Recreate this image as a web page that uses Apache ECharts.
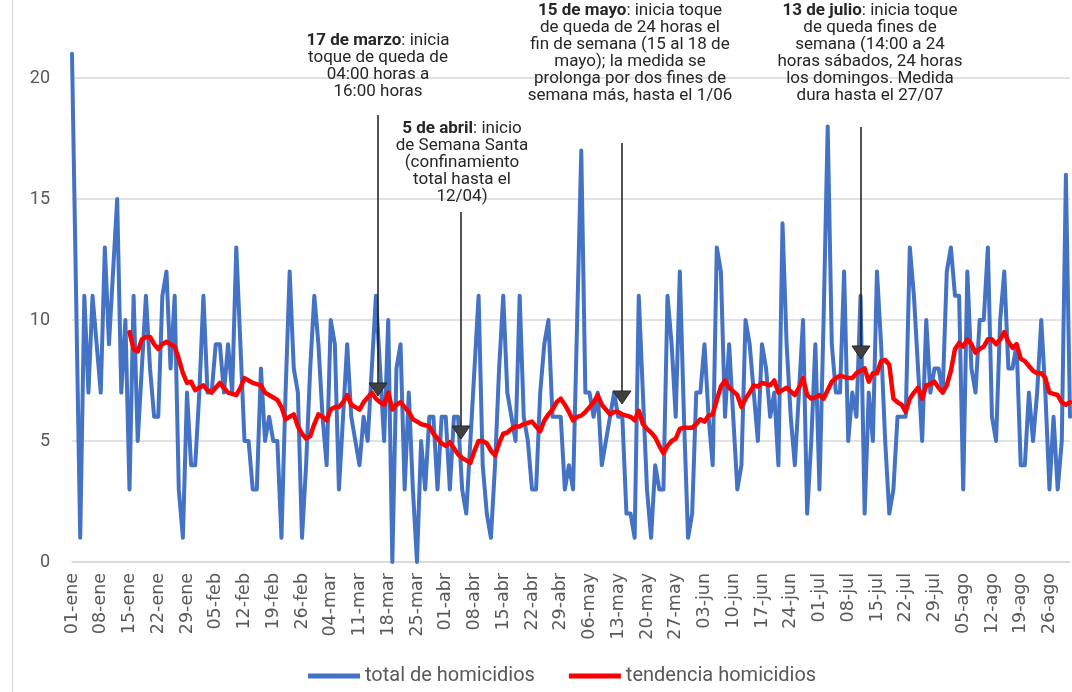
<!DOCTYPE html>
<html>
<head>
<meta charset="utf-8">
<script src="https://cdn.jsdelivr.net/npm/echarts@6/dist/echarts.min.js"></script>
<style>
  html, body { margin: 0; padding: 0; background: #ffffff; }
  #chart { width: 1072px; height: 692px; }
</style>
</head>
<body>
<div id="chart"></div>
<script>
// ---- Data ----
const monthNames = ['ene', 'feb', 'mar', 'abr', 'may', 'jun', 'jul', 'ago'];
const monthLengths = [31, 29, 31, 30, 31, 30, 31, 31];

// total de homicidios (daily, 01-ene .. 31-ago)
const totalHomicidios = [
  21,11,1,11,7,11,9,7,13,9,
  12,15,7,10,3,11,5,8,11,8,
  6,6,11,12,8,11,3,1,7,4,
  4,7,11,7,7,9,9,7,9,7,
  13,9,5,5,3,3,8,5,6,5,
  5,1,7,12,8,7,1,4,8,11,
  9,6,4,10,9,3,6,9,6,5,
  4,6,5,8,11,8,5,10,0,8,
  9,3,7,3,0,5,3,6,6,3,
  6,6,3,6,6,3,2,5,8,11,
  4,2,1,4,8,11,7,6,5,11,
  6,5,3,3,7,9,10,6,6,6,
  3,4,3,10,17,7,7,6,7,4,
  5,6,7,6,6,2,2,1,11,7,
  3,1,4,3,3,11,9,6,12,6,
  1,2,7,7,9,6,4,13,12,6,
  9,6,3,4,10,9,7,5,9,8,
  6,7,4,14,9,6,4,7,10,2,
  5,9,3,10,18,9,7,7,12,5,
  7,6,11,2,7,5,12,9,5,2,
  3,6,6,6,13,11,8,5,10,7,
  8,8,7,12,13,11,11,3,12,8,
  7,10,10,13,6,5,10,12,8,8,
  9,4,4,7,5,7,10,7,3,6,
  3,5,16,6
];

// tendencia homicidios (starts 15-ene)
const tendenciaHomicidios = [
  null,null,null,null,null,null,null,null,null,null,null,null,null,null,
  9.5,8.8,8.7,9.2,9.3,9.3,9.0,8.8,9.0,9.1,
  9.0,8.9,8.4,7.8,7.4,7.45,7.1,7.2,7.3,7.1,
  7.0,7.2,7.4,7.2,7.0,6.95,6.9,7.2,7.6,7.5,
  7.4,7.35,7.3,7.0,6.9,6.8,6.7,6.4,5.9,6.0,
  6.1,5.6,5.3,5.1,5.2,5.7,6.1,6.0,5.85,6.3,
  6.4,6.4,6.6,6.9,6.5,6.4,6.3,6.6,6.8,7.0,
  6.75,6.6,6.5,7.0,6.3,6.5,6.6,6.4,6.2,5.9,
  5.8,5.7,5.65,5.6,5.3,5.1,4.9,4.8,4.95,4.7,
  4.45,4.3,4.2,4.1,4.6,5.0,5.0,4.9,4.6,4.4,
  4.9,5.3,5.35,5.5,5.6,5.6,5.7,5.75,5.8,5.6,
  5.4,5.85,6.1,6.3,6.6,6.75,6.5,6.2,5.85,6.0,
  6.05,6.2,6.4,6.6,6.9,6.5,6.3,6.1,6.2,6.2,
  6.1,6.05,6.0,5.85,6.25,5.7,5.5,5.35,5.15,4.8,
  4.5,4.8,5.0,5.1,5.5,5.55,5.55,5.55,5.7,5.9,
  5.8,6.05,6.1,6.7,7.25,7.5,7.2,7.05,6.9,6.4,
  6.75,7.0,7.3,7.25,7.4,7.35,7.3,7.5,7.0,7.1,
  7.2,7.05,6.9,7.2,7.6,6.9,6.75,6.8,6.9,6.75,
  7.1,7.45,7.6,7.7,7.65,7.6,7.6,7.8,7.9,8.0,
  7.45,7.8,7.8,8.3,8.35,8.15,6.75,6.6,6.5,6.2,
  6.75,7.0,7.2,6.75,7.3,7.35,7.45,7.2,7.0,7.3,
  7.9,8.8,9.05,8.9,9.2,9.0,8.65,8.8,8.9,9.2,
  9.2,9.0,9.2,9.5,9.1,8.85,9.0,8.4,8.3,8.1,
  7.9,7.8,7.8,7.6,7.0,6.95,6.9,6.6,6.5,6.6
];

const seriesNames = ['total de homicidios', 'tendencia homicidios'];
const yTicks = [0, 5, 10, 15, 20, 25];

// category labels dd-mmm
const categories = [];
monthNames.forEach(function (m, i) {
  for (let d = 1; d <= monthLengths[i]; d++) {
    categories.push((d < 10 ? '0' + d : '' + d) + '-' + m);
  }
});

// annotations
const annotations = [
  { lines: ['{b|17 de marzo}: inicia', 'toque de queda de', '04:00 horas a', '16:00 horas'] },
  { lines: ['{b|5 de abril}: inicio', 'de Semana Santa', '(confinamiento', 'total hasta el', '12/04)'] },
  { lines: ['{b|15 de mayo}: inicia toque', 'de queda de 24 horas el', 'fin de semana (15 al 18 de', 'mayo); la medida se', 'prolonga por dos fines de', 'semana más, hasta el 1/06'] },
  { lines: ['{b|13 de julio}: inicia toque', 'de queda fines de', 'semana (14:00 a 24', 'horas sábados, 24 horas', 'los domingos. Medida', 'dura hasta el 27/07'] }
];

// ---- Layout / style ----
const FONT = 'Roboto, "Noto Sans", sans-serif';
const XFONT = '"DejaVu Sans", sans-serif';
const annLayout = [
  { tx: 378, ty: 32, ax: 378, ay1: 115, ay2: 396 },
  { tx: 462, ty: 120, ax: 461, ay1: 212, ay2: 439 },
  { tx: 630, ty: 2, ax: 622, ay1: 143, ay2: 404 },
  { tx: 870, ty: 2, ax: 861, ay1: 127, ay2: 359 }
];

const graphics = [
  { type: 'line', shape: { x1: 12.5, y1: 0, x2: 12.5, y2: 692 }, style: { stroke: '#d9d9d9', lineWidth: 1 }, z: 1 }
];
annotations.forEach(function (a, i) {
  const L = annLayout[i];
  graphics.push({
    type: 'text', x: L.tx, y: L.ty, z: 10,
    style: {
      text: a.lines.join('\n'),
      align: 'center', verticalAlign: 'top',
      fill: '#262626', font: '17px ' + FONT, lineHeight: 17,
      rich: { b: { fontWeight: 'bold', fontSize: 17, fontFamily: FONT, lineHeight: 17, fill: '#262626' } }
    }
  });
  graphics.push({
    type: 'line', z: 10,
    shape: { x1: L.ax, y1: L.ay1, x2: L.ax, y2: L.ay2 - 12 },
    style: { stroke: '#1a1a1a', lineWidth: 1.5 }
  });
  graphics.push({
    type: 'polygon', z: 11,
    shape: { points: [[L.ax - 9, L.ay2 - 13], [L.ax + 9, L.ay2 - 13], [L.ax, L.ay2]] },
    style: { fill: '#404040', stroke: '#262626', lineWidth: 1 }
  });
});

const chart = echarts.init(document.getElementById('chart'), null, { renderer: 'canvas' });
chart.setOption({
  animation: false,
  backgroundColor: '#ffffff',
  grid: { left: 72, right: 2, top: -43, bottom: 130, outerBoundsMode: 'none', containLabel: false },
  xAxis: {
    type: 'category',
    data: categories,
    boundaryGap: false,
    axisLine: { show: true, lineStyle: { color: '#d9d9d9', width: 1.5 } },
    axisTick: { show: false },
    axisLabel: {
      interval: 6, rotate: 90, margin: 11,
      color: '#595959', fontSize: 17.5, fontFamily: XFONT
    },
    splitLine: { show: false }
  },
  yAxis: {
    type: 'value',
    min: yTicks[0], max: yTicks[yTicks.length - 1], interval: 5,
    axisLine: { show: false },
    axisTick: { show: false },
    axisLabel: { color: '#595959', fontSize: 18, fontFamily: FONT, margin: 22 },
    splitLine: { show: true, lineStyle: { color: '#d9d9d9', width: 1.5 } }
  },
  legend: {
    bottom: 1, left: 303,
    itemWidth: 52, itemHeight: 5, itemGap: 34,
    icon: 'rect',
    textStyle: { color: '#595959', fontSize: 20, fontFamily: FONT },
    data: seriesNames
  },
  series: [
    {
      name: seriesNames[0], type: 'line', data: totalHomicidios,
      showSymbol: false, symbol: 'none',
      lineStyle: { color: '#4472C4', width: 4, join: 'round', cap: 'round' },
      itemStyle: { color: '#4472C4' }, z: 2
    },
    {
      name: seriesNames[1], type: 'line', data: tendenciaHomicidios,
      showSymbol: false, symbol: 'none', connectNulls: false,
      lineStyle: { color: '#FF0000', width: 4.5, join: 'round', cap: 'round' },
      itemStyle: { color: '#FF0000' }, z: 3
    }
  ],
  graphic: graphics
});
</script>
</body>
</html>
